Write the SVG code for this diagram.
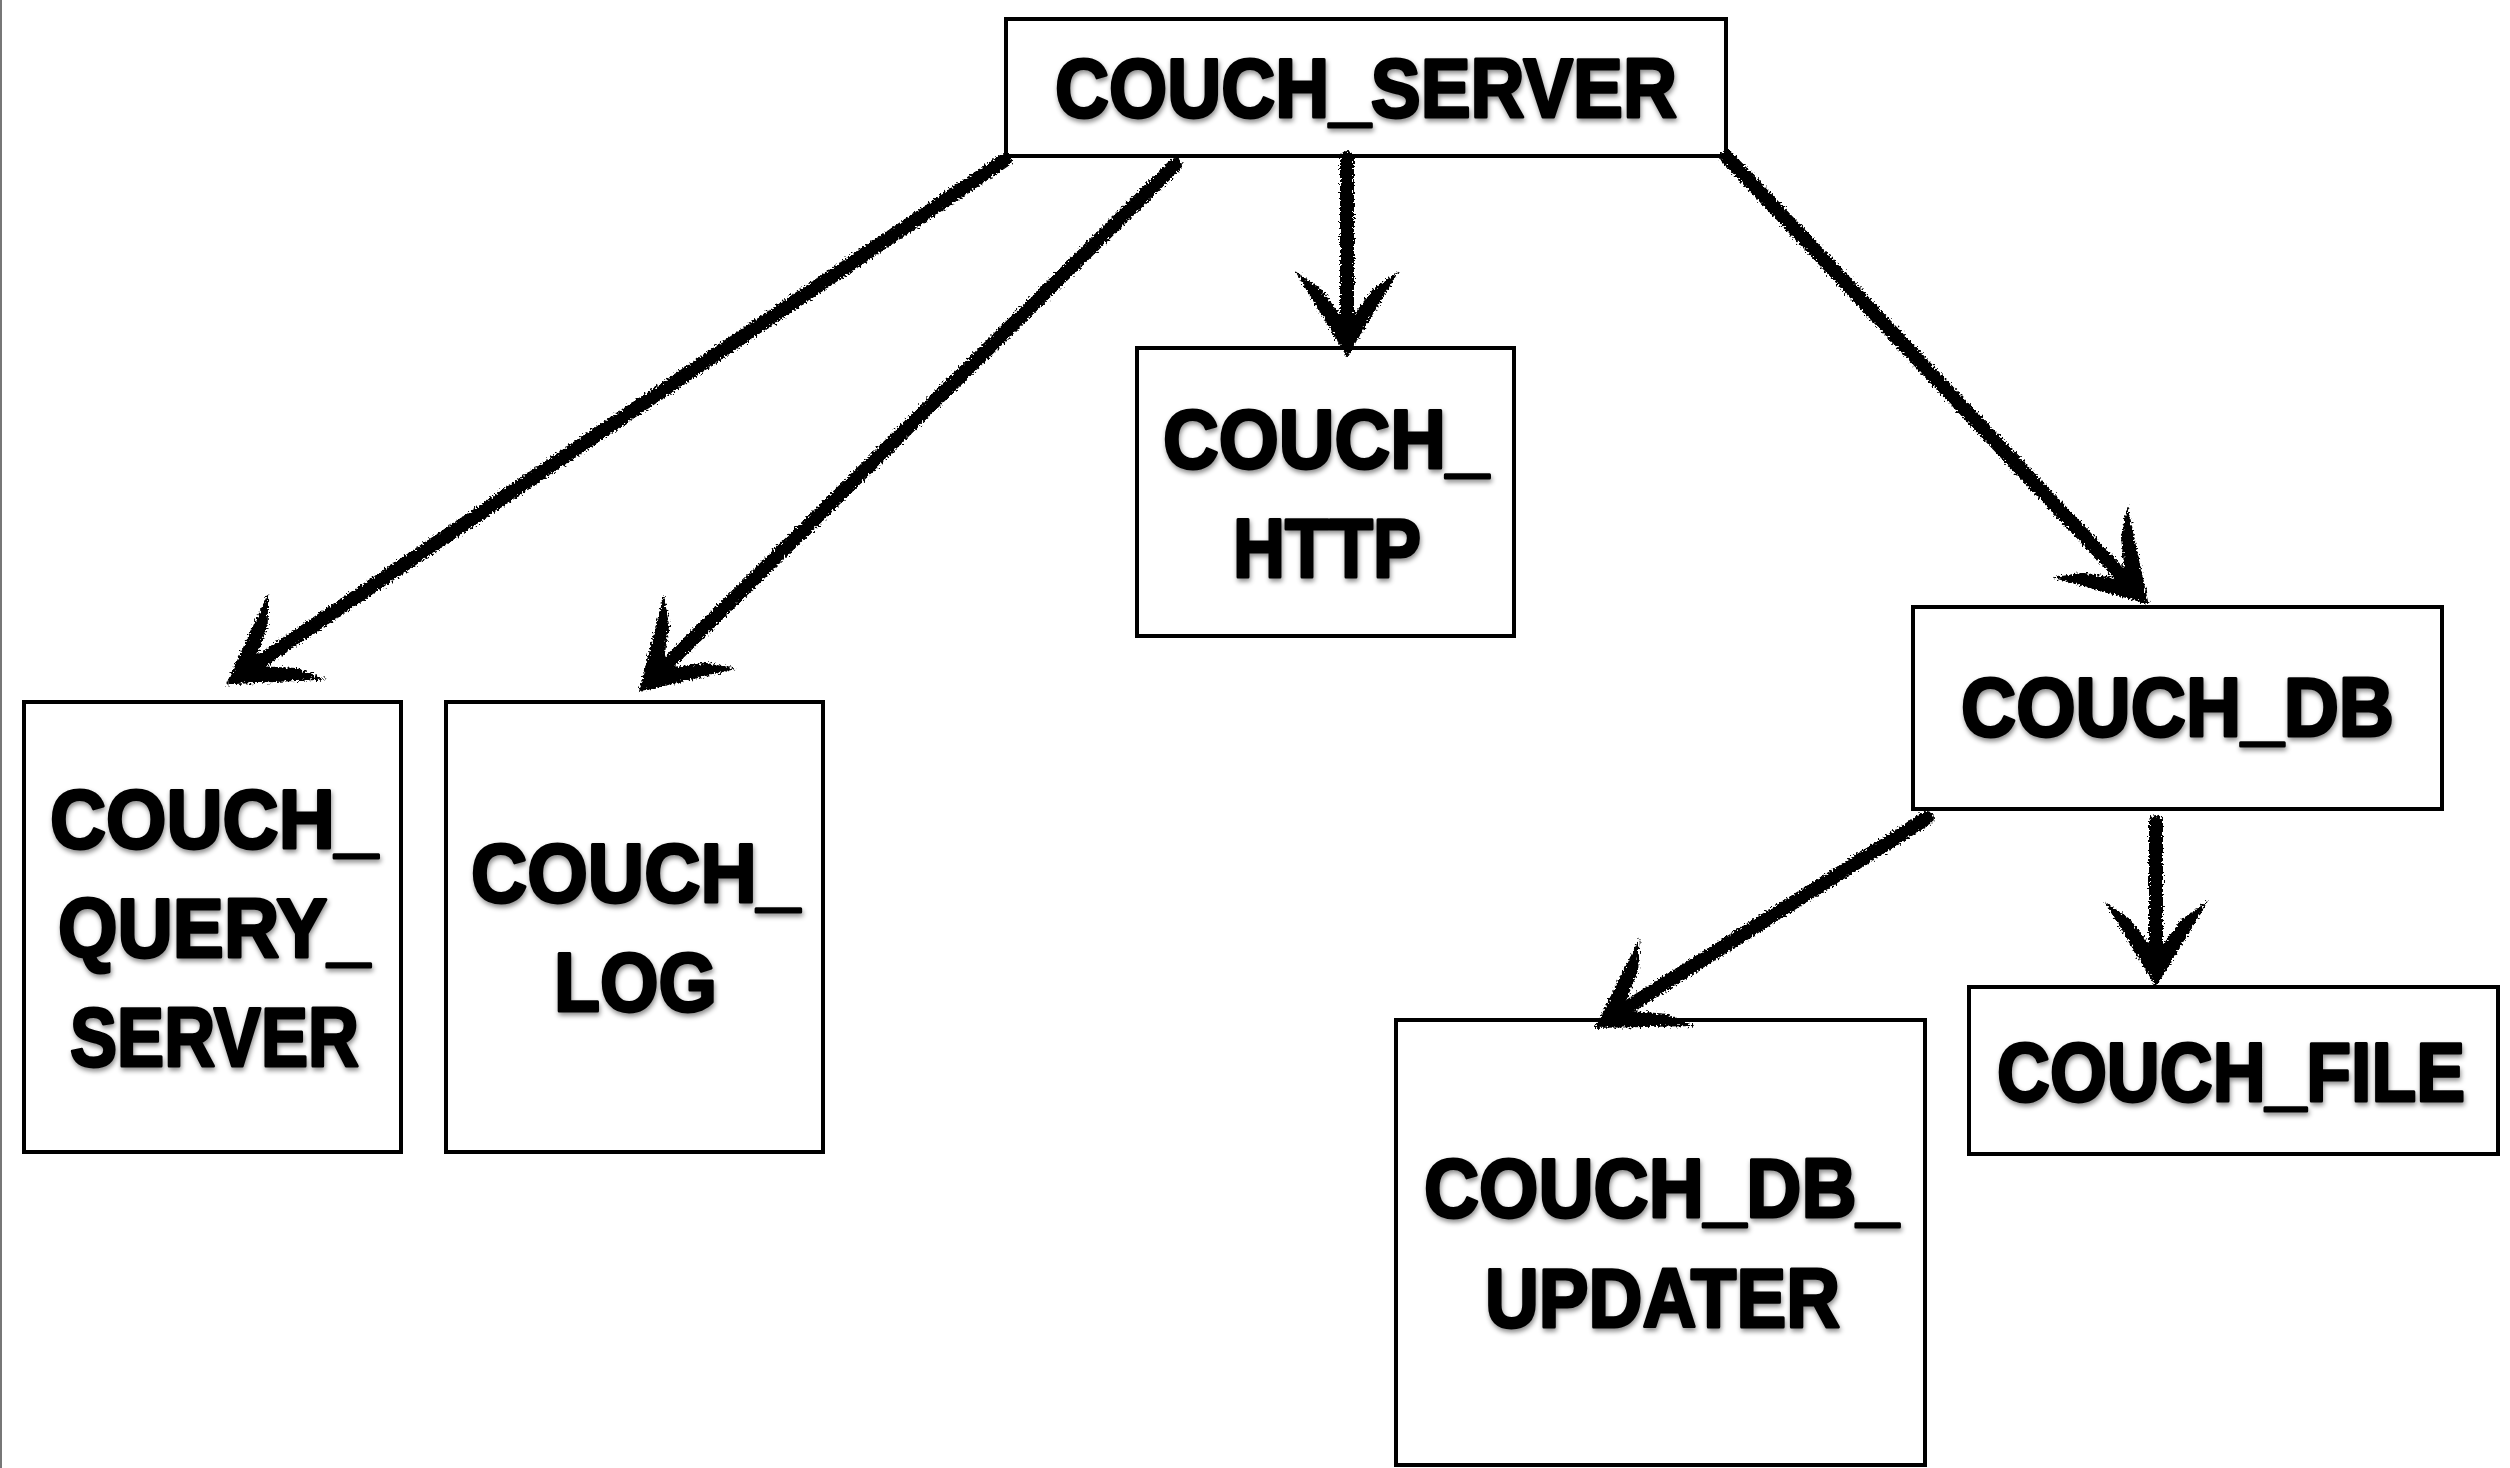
<svg xmlns="http://www.w3.org/2000/svg" width="2510" height="1468" viewBox="0 0 2510 1468">
<style>
.box{fill:#fff;stroke:#000;stroke-width:4}
.lbl{font-family:"Liberation Sans",Arial,sans-serif;font-weight:bold;font-size:84px;fill:#000;stroke:#000;stroke-width:3;stroke-linejoin:round;filter:url(#shadow)}
.shaft{fill:none;stroke:#000;stroke-width:14;stroke-linecap:round;marker-end:url(#ah)}
</style>
<defs>
<filter id="shadow" x="-10%" y="-20%" width="120%" height="150%">
<feDropShadow dx="1" dy="3" stdDeviation="2.5" flood-color="#000" flood-opacity="0.45"/>
</filter>
<filter id="chalk" x="-5%" y="-5%" width="110%" height="110%">
<feTurbulence type="fractalNoise" baseFrequency="0.5" numOctaves="2" seed="4" result="n"/>
<feDisplacementMap in="SourceGraphic" in2="n" scale="8" xChannelSelector="R" yChannelSelector="G"/>
</filter>
<marker id="ah" markerUnits="userSpaceOnUse" viewBox="-92 -58 114 116" markerWidth="114" markerHeight="116" refX="-15" refY="0" orient="auto">
<path d="M2,0 L-84,-52 L-66,-26 L-38,-5 L-38,5 L-66,26 L-84,52 Z" fill="#000"/>
</marker>
</defs>
<rect width="2510" height="1468" fill="#fff"/>
<line x1="1" y1="0" x2="1" y2="1468" stroke="#777" stroke-width="2"/>

<g id="couch_server">
<rect class="box" x="1006" y="19" width="720" height="137"/>
<text class="lbl" x="1055" y="117" textLength="622" lengthAdjust="spacingAndGlyphs">COUCH_SERVER</text>
</g>
<g id="couch_http">
<rect class="box" x="1137" y="348" width="377" height="288"/>
<text class="lbl" x="1163" y="468" textLength="326" lengthAdjust="spacingAndGlyphs">COUCH_</text>
<text class="lbl" x="1233" y="577" textLength="188" lengthAdjust="spacingAndGlyphs">HTTP</text>
</g>
<g id="couch_query_server">
<rect class="box" x="24" y="702" width="377" height="450"/>
<text class="lbl" x="50" y="848" textLength="328" lengthAdjust="spacingAndGlyphs">COUCH_</text>
<text class="lbl" x="58" y="957" textLength="312" lengthAdjust="spacingAndGlyphs">QUERY_</text>
<text class="lbl" x="70" y="1066" textLength="289" lengthAdjust="spacingAndGlyphs">SERVER</text>
</g>
<g id="couch_log">
<rect class="box" x="446" y="702" width="377" height="450"/>
<text class="lbl" x="471" y="902" textLength="329" lengthAdjust="spacingAndGlyphs">COUCH_</text>
<text class="lbl" x="554" y="1011" textLength="163" lengthAdjust="spacingAndGlyphs">LOG</text>
</g>
<g id="couch_db">
<rect class="box" x="1913" y="607" width="529" height="202"/>
<text class="lbl" x="1961" y="736" textLength="433" lengthAdjust="spacingAndGlyphs">COUCH_DB</text>
</g>
<g id="couch_file">
<rect class="box" x="1969" y="987" width="529" height="167"/>
<text class="lbl" x="1997" y="1101" textLength="468" lengthAdjust="spacingAndGlyphs">COUCH_FILE</text>
</g>
<g id="couch_db_updater">
<rect class="box" x="1396" y="1020" width="529" height="445"/>
<text class="lbl" x="1424" y="1217" textLength="475" lengthAdjust="spacingAndGlyphs">COUCH_DB_</text>
<text class="lbl" x="1485" y="1327" textLength="355" lengthAdjust="spacingAndGlyphs">UPDATER</text>
</g>

<g id="connectors" filter="url(#chalk)">
<path class="shaft" d="M1005,160 L240,675"/>
<path class="shaft" d="M1175,165 L651,680"/>
<path class="shaft" d="M1347,158 L1347,340"/>
<path class="shaft" d="M1727,157 L2137,592"/>
<path class="shaft" d="M1927,818 L1609,1019"/>
<path class="shaft" d="M2156,822 L2156,970"/>
</g>
</svg>
